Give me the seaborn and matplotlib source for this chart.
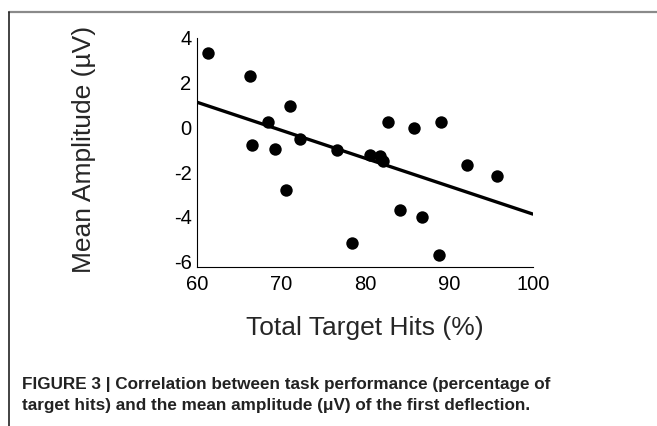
import numpy as np
import pandas as pd
import matplotlib
matplotlib.use('Agg')
import matplotlib.pyplot as plt
from matplotlib.lines import Line2D
import seaborn as sns

# Data
total_hits = [61.3, 66.3, 66.6, 68.5, 69.3, 71.1, 70.6, 72.3, 76.7, 78.5, 80.6,
              81.8, 82.1, 82.7, 84.2, 85.9, 86.8, 89.1, 88.8, 92.2, 95.7]
mean_amp = [3.33, 2.31, -0.78, 0.22, -0.97, 0.97, -2.82, -0.52, -1.03, -5.18, -1.22,
            -1.27, -1.52, 0.25, -3.69, -0.03, -3.99, 0.22, -5.72, -1.70, -2.19]
x_ticks = [60, 70, 80, 90, 100]
y_ticks = [-6, -4, -2, 0, 2, 4]

caption = ("FIGURE 3 | Correlation between task performance (percentage of\n"
           "target hits) and the mean amplitude (\u03bcV) of the first deflection.")

df = pd.DataFrame({'hits': total_hits, 'amp': mean_amp})

sns.set_style('white')
plt.rcParams['font.family'] = ['Liberation Sans', 'DejaVu Sans']
plt.rcParams['axes.unicode_minus'] = False

fig = plt.figure(figsize=(6.57, 4.26), dpi=100)
ax = fig.add_axes([0.300, 0.373, 0.511, 0.538])

ax.set_xlim(60, 100)
ax.set_ylim(-6.25, 4)

# Scatter + least squares fit across the whole x range
sns.regplot(data=df, x='hits', y='amp', ax=ax, ci=None, truncate=False,
            scatter_kws={'s': 80, 'color': 'black', 'linewidths': 0, 'alpha': 1},
            line_kws={'color': 'black', 'linewidth': 2.4})

ax.set_xticks(x_ticks)
ax.set_yticks(y_ticks)
ax.tick_params(direction='in', length=3, width=0.8, labelsize=14.5, colors='black')
ax.tick_params(axis='x', pad=6)
ax.tick_params(axis='y', pad=4)
ax.set_xlabel('Total Target Hits (%)', fontsize=19)
ax.set_ylabel('Mean Amplitude (\u00b5V)', fontsize=19)
ax.xaxis.set_label_coords(0.5, -0.215)
ax.yaxis.set_label_coords(-0.30, 0.515)

sns.despine(ax=ax)
for side in ['left', 'bottom']:
    ax.spines[side].set_color('black')
    ax.spines[side].set_linewidth(0.8)

# Page frame lines
fig.add_artist(Line2D([0.0137, 1.0], [0.972, 0.972], color='#8a8a8a', lw=1.6))
fig.add_artist(Line2D([0.0137, 0.0137], [0.0, 0.972], color='#222222', lw=1.2))

fig.text(22 / 657, 1 - 395 / 426, caption, fontsize=12.3, fontweight='bold',
         family=['Liberation Sans Narrow', 'Liberation Sans', 'DejaVu Sans'],
         color='#222222', va='center', ha='left', linespacing=1.55)

fig.savefig('out.png', dpi=100)
